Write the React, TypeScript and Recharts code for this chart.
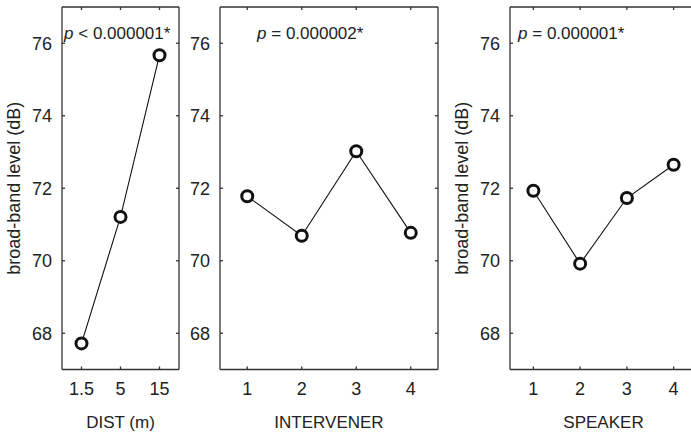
import { LineChart, Line, XAxis, YAxis, Label } from 'recharts';

const distLabels = ['1.5', '5', '15'];
const distLevels = [67.72, 71.21, 75.67];

const intervenerLabels = ['1', '2', '3', '4'];
const intervenerLevels = [71.78, 70.69, 73.02, 70.77];

const speakerLabels = ['1', '2', '3', '4'];
const speakerLevels = [71.93, 69.92, 71.73, 72.65];

const yTicks = [68, 70, 72, 74, 76];
const yDomain: [number, number] = [67, 77];

const FONT = '"Liberation Sans", Arial, sans-serif';
const INK = '#222';
const FRAME = '#333';

const blank = () => <g />;

type PanelProps = {
  left: number;
  width: number;
  axisWidth: number;
  marginRight: number;
  labels: string[];
  values: number[];
  xTitle: string;
  pRel: string;
  pValue: string;
  pX: number;
  yTitleX?: number;
};

function Panel({ left, width, axisWidth, marginRight, labels, values, xTitle, pRel, pValue, pX, yTitleX }: PanelProps) {
  const data = labels.map((x, i) => ({ x, v: values[i] }));
  const tickStyle = { fill: INK, fontSize: 18, fontFamily: FONT };
  const frame = { stroke: FRAME, strokeWidth: 1.3 };

  const pText = (props: any) => {
    const vb = props.viewBox;
    return (
      <text x={vb.x + pX} y={39} fill={INK} fontSize={17} fontFamily={FONT}>
        <tspan fontStyle="italic">p</tspan> {pRel} {pValue}
      </text>
    );
  };

  const yTitle = (props: any) => {
    const vb = props.viewBox;
    const cy = vb.y + vb.height / 2;
    return (
      <text
        x={yTitleX}
        y={cy}
        transform={`rotate(-90 ${yTitleX} ${cy})`}
        textAnchor="middle"
        dominantBaseline="central"
        fill={INK}
        fontSize={18}
        fontFamily={FONT}
      >
        broad-band level (dB)
      </text>
    );
  };

  return (
    <div style={{ position: 'absolute', left, top: 0 }}>
      <LineChart width={width} height={435} data={data} margin={{ top: 6, right: marginRight - 1, bottom: 0, left: 0 }}>
        <XAxis
          xAxisId="b"
          dataKey="x"
          scale="band"
          height={65.5}
          tickSize={-3}
          tickMargin={15.5}
          tick={tickStyle}
          axisLine={frame}
          tickLine={frame}
        >
          <Label value={xTitle} position="insideBottom" offset={7} fill={INK} fontSize={17} fontFamily={FONT} />
        </XAxis>
        <XAxis
          xAxisId="t"
          dataKey="x"
          scale="band"
          orientation="top"
          height={1}
          tickSize={-3}
          tick={blank}
          axisLine={frame}
          tickLine={frame}
        >
          <Label content={pText} />
        </XAxis>
        <YAxis
          yAxisId="l"
          domain={yDomain}
          ticks={yTicks}
          width={axisWidth}
          tickSize={-3}
          tickMargin={13}
          tick={tickStyle}
          axisLine={frame}
          tickLine={frame}
        >
          {yTitleX !== undefined && <Label content={yTitle} />}
        </YAxis>
        <YAxis
          yAxisId="r"
          orientation="right"
          domain={yDomain}
          ticks={yTicks}
          width={1}
          tickSize={-3}
          tick={blank}
          axisLine={frame}
          tickLine={frame}
        />
        <Line xAxisId="t" yAxisId="r" dataKey="v" stroke="none" dot={false} activeDot={false} isAnimationActive={false} />
        <Line
          xAxisId="b"
          yAxisId="l"
          dataKey="v"
          stroke="#111"
          strokeWidth={1.1}
          dot={{ r: 5.5, stroke: '#111', strokeWidth: 3, fill: '#fff' }}
          activeDot={false}
          isAnimationActive={false}
        />
      </LineChart>
    </div>
  );
}

export default function App() {
  return (
    <div style={{ position: 'fixed', left: 0, top: 0, width: 691, height: 435, overflow: 'hidden', background: '#fff' }}>
      <Panel
        left={0}
        width={190}
        axisWidth={62}
        marginRight={11}
        labels={distLabels}
        values={distLevels}
        xTitle="DIST (m)"
        pRel="<"
        pValue="0.000001*"
        pX={2}
        yTitleX={14}
      />
      <Panel
        left={180}
        width={270}
        axisWidth={40}
        marginRight={12}
        labels={intervenerLabels}
        values={intervenerLevels}
        xTitle="INTERVENER"
        pRel="="
        pValue="0.000002*"
        pX={37}
      />
      <Panel
        left={440}
        width={270}
        axisWidth={70}
        marginRight={13}
        labels={speakerLabels}
        values={speakerLevels}
        xTitle="SPEAKER"
        pRel="="
        pValue="0.000001*"
        pX={8}
        yTitleX={22}
      />
    </div>
  );
}
